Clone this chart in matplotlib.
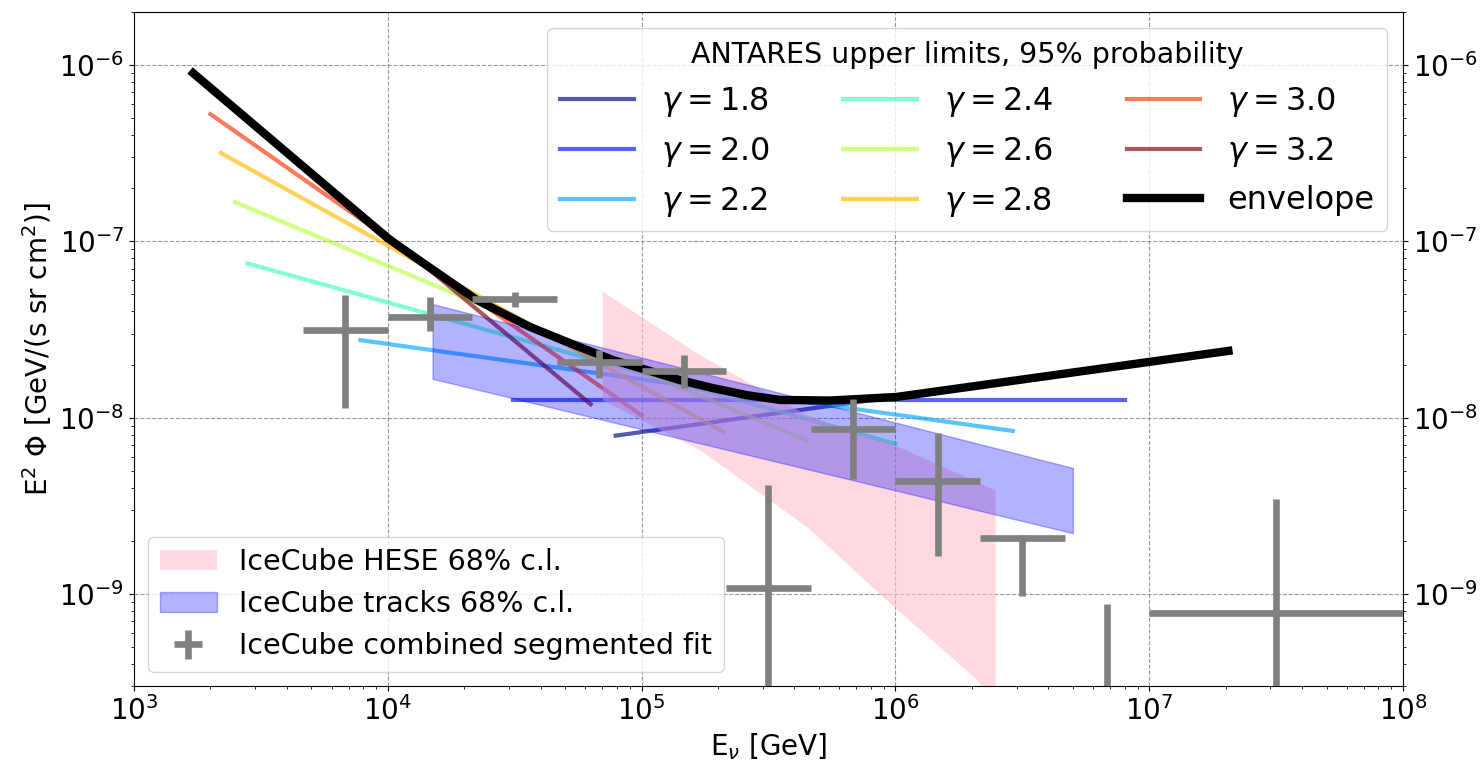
import numpy as np
import matplotlib
matplotlib.use("Agg")
import matplotlib.pyplot as plt

# ANTARES upper limits: one straight segment (log-log) per spectral index,
# energy range [GeV] and E^2 flux at both ends
gammas = [1.8, 2.0, 2.2, 2.4, 2.6, 2.8, 3.0, 3.2]
lim_e_lo = [7.9e4, 3.1e4, 7.8e3, 2.8e3, 2.5e3, 2.2e3, 2.0e3, 1.7e3]
lim_e_hi = [2.0e7, 8.0e6, 2.9e6, 1.0e6, 4.5e5, 2.1e5, 1.0e5, 6.3e4]
lim_f_lo = [7.9e-9, 1.26e-8, 2.75e-8, 7.5e-8, 1.67e-7, 3.17e-7, 5.27e-7, 9.1e-7]
lim_f_hi = [2.39e-8, 1.26e-8, 8.4e-9, 7.1e-9, 7.4e-9, 8.3e-9, 1.03e-8, 1.19e-8]

# envelope of the limits
env_e = [1.71e3, 1.0e4, 1.47e4, 2.24e4, 3.63e4, 5.71e4, 7.71e4, 1.05e5, 1.42e5,
         1.91e5, 2.6e5, 3.51e5, 5.52e5, 1.01e6, 2.05e7]
env_f = [9.0e-7, 1.04e-7, 7.06e-8, 4.65e-8, 3.27e-8, 2.51e-8, 2.12e-8, 1.86e-8, 1.63e-8,
         1.47e-8, 1.34e-8, 1.26e-8, 1.25e-8, 1.31e-8, 2.39e-8]

# IceCube tracks 68% band
tracks_e = [1.5e4, 5.0e6]
tracks_lo = [1.66e-8, 2.21e-9]
tracks_hi = [4.41e-8, 5.18e-9]

# IceCube HESE 68% band
hese_e = [7.0e4, 1.7e5, 4.5e5, 9.5e5, 2.1e6, 2.47e6]
hese_lo = [1.26e-8, 6.55e-9, 2.39e-9, 8.87e-10, 3.25e-10, 2.2e-10]
hese_hi = [5.22e-8, 2.26e-8, 1.03e-8, 7.18e-9, 4.33e-9, 3.88e-9]

# IceCube combined segmented fit
seg_e = [6.8e3, 1.47e4, 3.16e4, 6.8e4, 1.47e5, 3.16e5, 6.8e5, 1.47e6, 3.16e6, 6.8e6, 3.16e7]
seg_e_lo = [4.64e3, 1.0e4, 2.15e4, 4.64e4, 1.0e5, 2.15e5, 4.64e5, 1.0e6, 2.15e6, 4.64e6, 1.0e7]
seg_e_hi = [1.0e4, 2.15e4, 4.64e4, 1.0e5, 2.15e5, 4.64e5, 1.0e6, 2.15e6, 4.64e6, 1.0e7, 1.0e8]
seg_f = [3.14e-8, 3.72e-8, 4.71e-8, 2.07e-8, 1.84e-8, 1.08e-9, 8.61e-9, 4.37e-9, 2.07e-9, 1.5e-10, 7.8e-10]
seg_f_lo = [1.13e-8, 3.10e-8, 4.24e-8, 1.68e-8, 1.47e-8, 1e-11, 4.49e-9, 1.64e-9, 9.73e-10, 1e-11, 1e-11]
seg_f_hi = [4.95e-8, 4.83e-8, 5.16e-8, 2.42e-8, 2.26e-8, 4.15e-9, 1.28e-8, 8.18e-9, 2.16e-9, 8.77e-10, 3.45e-9]

x_ticks = [1e3, 1e4, 1e5, 1e6, 1e7, 1e8]
y_ticks = [1e-9, 1e-8, 1e-7, 1e-6]

fig = plt.figure(figsize=(14.83, 7.63), dpi=100)
ax = fig.add_axes([0.0904, 0.1009, 0.8557, 0.8833])
ax.set_xscale('log')
ax.set_yscale('log')

colors = plt.cm.jet(np.linspace(0, 1, len(gammas)))
lim_lines = []
for g, c, e0, e1, f0, f1 in zip(gammas, colors, lim_e_lo, lim_e_hi, lim_f_lo, lim_f_hi):
    line, = ax.plot([e0, e1], [f0, f1], color=c, alpha=0.65, lw=3, label=r'$\gamma = %.1f$' % g)
    lim_lines.append(line)

# bands go over the limit lines
hese = ax.fill_between(hese_e, hese_lo, hese_hi, color='pink', alpha=0.6, lw=0,
                       label='IceCube HESE 68% c.l.', zorder=2.2)
tracks = ax.fill_between(tracks_e, tracks_lo, tracks_hi, color='blue', alpha=0.3,
                         label='IceCube tracks 68% c.l.', zorder=2.3)

seg_e = np.array(seg_e)
seg_f = np.array(seg_f)
xerr = [seg_e - np.array(seg_e_lo), np.array(seg_e_hi) - seg_e]
yerr = [seg_f - np.array(seg_f_lo), np.array(seg_f_hi) - seg_f]
seg = ax.errorbar(seg_e, seg_f, xerr=xerr, yerr=yerr, fmt='none', ecolor='gray',
                  elinewidth=4.8, capsize=0, label='IceCube combined segmented fit', zorder=4)

env, = ax.plot(env_e, env_f, color='black', lw=6, label='envelope', zorder=3)

ax.set_xlim(1e3, 1e8)
ax.set_ylim(3e-10, 2e-6)
ax.set_xticks(x_ticks)
ax.set_yticks(y_ticks)
ax.grid(True, which='major', linestyle='--', color='gray', lw=0.8, alpha=0.8)
ax.tick_params(axis='both', which='both', right=True, labelright=True, labelsize=20)
ax.set_xlabel(r'E$_\nu$ [GeV]', fontsize=20)
ax.set_ylabel(r'E$^2$ Φ [GeV/(s sr cm$^2$)]', fontsize=20)

leg1 = ax.legend(handles=lim_lines + [env], loc='upper right', ncol=3, fontsize=23,
                 title='ANTARES upper limits, 95% probability', title_fontsize=20.5,
                 handlelength=2.3, handletextpad=0.85, columnspacing=2.3)
ax.add_artist(leg1)
ax.legend(handles=[hese, tracks, seg], loc='lower left', fontsize=20.5)

plt.savefig('out.png', dpi=100)
